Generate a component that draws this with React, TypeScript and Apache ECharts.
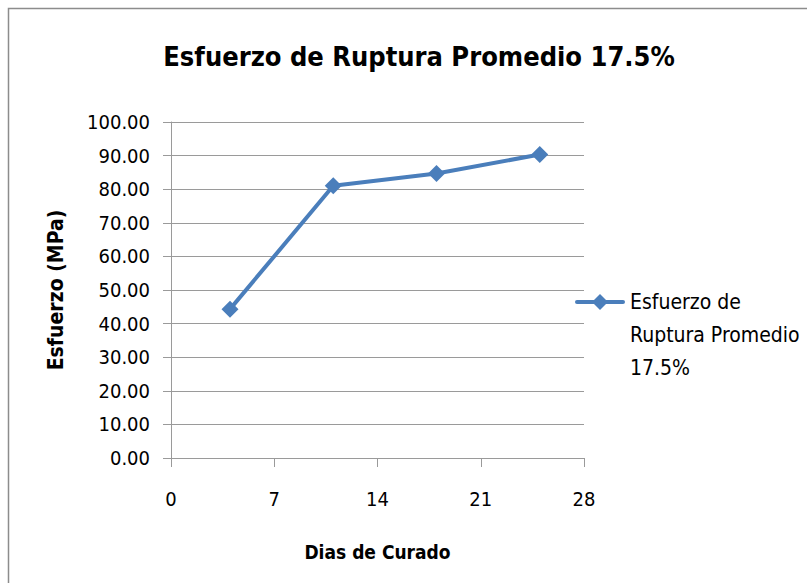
import React, { useEffect, useRef } from "react";
import * as echarts from "echarts";

const titleText = "Esfuerzo de Ruptura Promedio 17.5%";
const seriesName = "Esfuerzo de Ruptura Promedio 17.5%";
const legendLines = ["Esfuerzo de", "Ruptura Promedio", "17.5%"];
const xName = "Dias de Curado";
const yName = "Esfuerzo (MPa)";
const days = [4, 11, 18, 25];
const stress = [44.3, 81.0, 84.7, 90.3];

const FONT = "'DejaVu Sans Condensed', 'Liberation Sans Narrow', 'Open Sans', sans-serif";
const BLUE = "#4a7ebb";

export default function App() {
  const ref = useRef<HTMLDivElement>(null);
  useEffect(() => {
    if (!ref.current) return;
    const chart = echarts.init(ref.current, undefined, { renderer: "svg" });
    const data = days.map((d, i) => [d, stress[i]]);
    chart.setOption({
      animation: false,
      backgroundColor: "#ffffff",
      title: {
        text: titleText,
        left: 414,
        top: 38,
        textAlign: "center",
        textStyle: { fontFamily: FONT, fontSize: 27, fontWeight: "bold", color: "#000" },
      },
      grid: { left: 171, top: 122, width: 413, height: 336, containLabel: false },
      xAxis: {
        type: "value",
        min: 0,
        max: 28,
        interval: 7,
        name: xName,
        nameLocation: "middle",
        nameGap: 84,
        nameTextStyle: { fontFamily: FONT, fontSize: 19, fontWeight: "bold", color: "#000" },
        axisLine: { show: true, lineStyle: { color: "#9a9a9a", width: 1 } },
        axisTick: { show: true, length: 9, inside: false, lineStyle: { color: "#9a9a9a" } },
        axisLabel: { fontFamily: FONT, fontSize: 20, color: "#000", margin: 31 },
        splitLine: { show: false },
      },
      yAxis: {
        type: "value",
        min: 0,
        max: 100,
        interval: 10,
        name: yName,
        nameLocation: "middle",
        nameGap: 105,
        nameRotate: 90,
        nameTextStyle: { fontFamily: FONT, fontSize: 21, fontWeight: "bold", color: "#000" },
        axisLine: { show: true, lineStyle: { color: "#9a9a9a", width: 1 } },
        axisTick: { show: true, length: 8, lineStyle: { color: "#9a9a9a" } },
        axisLabel: {
          fontFamily: FONT,
          fontSize: 20,
          color: "#000",
          margin: 21,
          formatter: (v: number) => v.toFixed(2),
        },
        splitLine: { show: true, lineStyle: { color: "#9a9a9a", width: 1 } },
      },
      legend: { show: false },
      series: [
        {
          name: seriesName,
          type: "line",
          data,
          symbol: "diamond",
          symbolSize: 17,
          lineStyle: { color: BLUE, width: 4 },
          itemStyle: { color: BLUE },
        },
      ],
      graphic: [
        {
          type: "rect",
          shape: { x: 8.5, y: 8.5, width: 820, height: 600 },
          style: { fill: "none", stroke: "#8c8c8c", lineWidth: 1.5 },
          silent: true,
          z: -1,
        },
        {
          type: "line",
          shape: { x1: 577, y1: 302, x2: 623, y2: 302 },
          style: { stroke: BLUE, lineWidth: 4, lineCap: "round" },
        },
        {
          type: "polygon",
          shape: { points: [[600, 294], [608, 302], [600, 310], [592, 302]] },
          style: { fill: BLUE },
        },
        ...legendLines.map((t, i) => ({
          type: "text",
          x: 630,
          y: 302 + i * 33,
          style: {
            text: t,
            fontFamily: FONT,
            fontSize: 21,
            fill: "#000",
            verticalAlign: "middle",
          },
        })),
      ],
    });
    return () => chart.dispose();
  }, []);
  return <div ref={ref} style={{ width: 807, height: 583, position: "absolute", left: 0, top: 0 }} />;
}
